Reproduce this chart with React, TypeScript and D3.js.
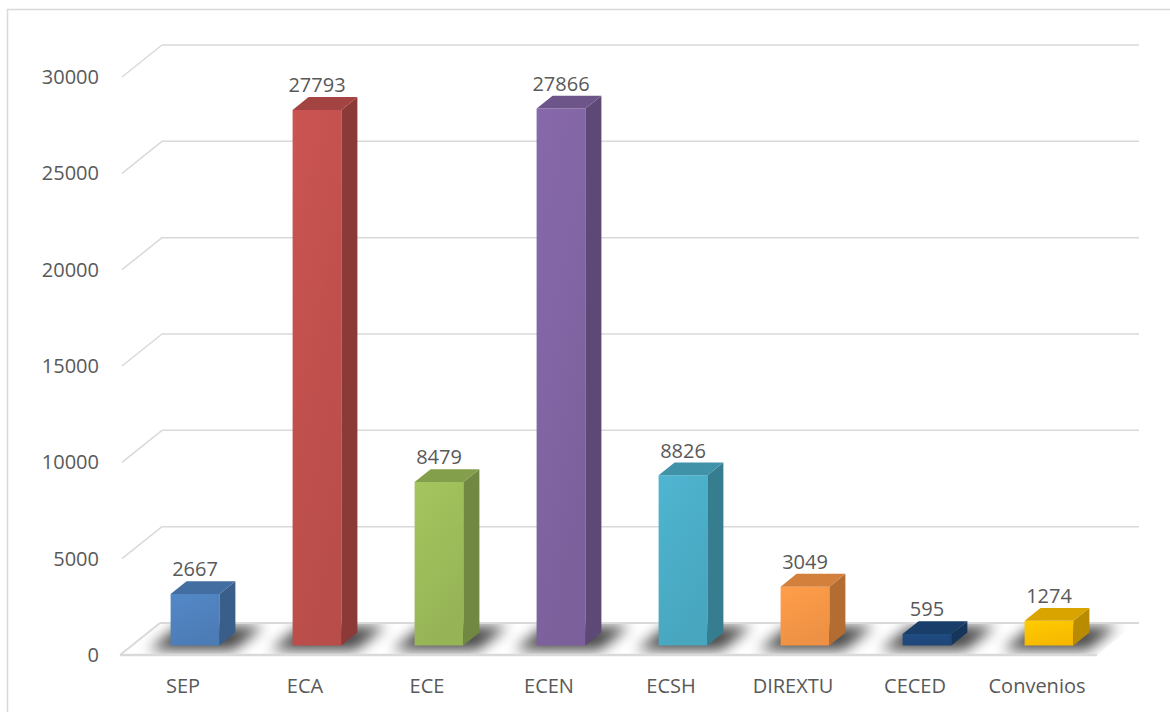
import * as d3 from 'd3';

const categories = ['SEP', 'ECA', 'ECE', 'ECEN', 'ECSH', 'DIREXTU', 'CECED', 'Convenios'];
const values = [2667, 27793, 8479, 27866, 8826, 3049, 595, 1274];
const barColors = ['#4F81BD', '#C0504D', '#9BBB59', '#8064A2', '#4BACC6', '#F79646', '#1F497D', '#FFC000'];
const yTicks = [0, 5000, 10000, 15000, 20000, 25000, 30000];

const W = 1170;
const H = 712;
// depth offset of the 3d box (back wall relative to front plane)
const DX = 40;
const DY = 32;
const FRONT = 0.3;
const BACK = 0.7;
const FONT = '"Open Sans", "DejaVu Sans", sans-serif';
const TEXT = '#595959';
const GRID = '#D9D9D9';

export default function App() {
  const x = d3.scaleBand<string>().domain(categories).range([122, 1098]);
  const y = d3.scaleLinear().domain([0, 30000]).range([655, 77]);
  const bw = x.bandwidth() * 0.4;

  const P = (xf: number, v: number, d: number): [number, number] => [xf + DX * d, y(v) - DY * d];
  const poly = (pts: [number, number][]) => pts.map((p) => p.join(',')).join(' ');

  const floor = poly([P(120, 0, 0), P(1097, 0, 0), P(1097, 0, 1), P(120, 0, 1)]);

  return (
    <svg width={W} height={H} style={{ position: 'absolute', left: 0, top: 0, background: '#fff' }}>
      <defs>
        <filter id="blur" x="-50%" y="-50%" width="200%" height="200%">
          <feGaussianBlur stdDeviation="7" />
        </filter>
        <clipPath id="floorClip">
          <polygon points={floor} />
        </clipPath>
        {barColors.map((c, i) => (
          <linearGradient key={i} id={`front${i}`} x1="0" y1="0" x2="0.4" y2="1">
            <stop offset="0" stopColor={d3.color(c)!.brighter(0.15).formatHex()} />
            <stop offset="1" stopColor={d3.color(c)!.darker(0.1).formatHex()} />
          </linearGradient>
        ))}
      </defs>

      {/* chart border */}
      <rect x={7.5} y={9.5} width={1200} height={740} fill="none" stroke={GRID} strokeWidth={1.5} />

      {/* gridlines on the back wall with diagonal stubs */}
      {yTicks.filter((t) => t > 0).map((t) => {
        const a = P(122, t, 0);
        const b = P(122, t, 1);
        return (
          <g key={t}>
            <line x1={a[0]} y1={a[1]} x2={b[0]} y2={b[1]} stroke={GRID} strokeWidth={1.5} />
            <line x1={b[0]} y1={b[1]} x2={1139} y2={b[1]} stroke={GRID} strokeWidth={1.5} />
          </g>
        );
      })}

      {/* floor */}
      <polygon points={floor} fill="#fff" />
      <g clipPath="url(#floorClip)">
        {categories.map((c) => {
          const xl = x(c)! + x.bandwidth() / 2 - bw / 2;
          const xr = xl + bw;
          const pts = poly([P(xl - 16, 0, 0.15), P(xr + 20, 0, 0.15), P(xr + 20, 0, 0.9), P(xl - 16, 0, 0.9)]);
          return <polygon key={c} points={pts} fill="#000" opacity={0.72} filter="url(#blur)" />;
        })}
      </g>
      <line x1={P(120, 0, 0)[0]} y1={P(120, 0, 0)[1]} x2={1097} y2={P(120, 0, 0)[1]} stroke={GRID} strokeWidth={2.5} />
      <line x1={P(120, 0, 0)[0]} y1={P(120, 0, 0)[1]} x2={P(120, 0, 1)[0]} y2={P(120, 0, 1)[1]} stroke={GRID} strokeWidth={2} />
      <line x1={P(120, 0, 1)[0]} y1={P(120, 0, 1)[1]} x2={1139} y2={P(120, 0, 1)[1]} stroke={GRID} strokeWidth={2} />

      {/* bars */}
      {categories.map((c, i) => {
        const v = values[i];
        const col = d3.color(barColors[i])!;
        const xl = x(c)! + x.bandwidth() / 2 - bw / 2;
        const xr = xl + bw;
        const front = poly([P(xl, 0, FRONT), P(xr, 0, FRONT), P(xr, v, FRONT), P(xl, v, FRONT)]);
        const side = poly([P(xr, 0, FRONT), P(xr, 0, BACK), P(xr, v, BACK), P(xr, v, FRONT)]);
        const top = poly([P(xl, v, FRONT), P(xr, v, FRONT), P(xr, v, BACK), P(xl, v, BACK)]);
        const labelX = P(x(c)! + x.bandwidth() / 2, v, FRONT)[0];
        const labelY = P(xl, v, BACK)[1] - 5;
        return (
          <g key={c}>
            <polygon points={front} fill={`url(#front${i})`} />
            <polygon points={side} fill={col.darker(0.9).formatHex()} />
            <polygon points={top} fill={col.darker(0.45).formatHex()} />
            <text x={labelX} y={labelY} textAnchor="middle" fontFamily={FONT} fontSize={20} fill={TEXT}>
              {v}
            </text>
          </g>
        );
      })}

      {/* y axis labels */}
      {yTicks.map((t) => (
        <text key={t} x={99} y={y(t)} dy="0.35em" textAnchor="end" fontFamily={FONT} fontSize={20} fill={TEXT}>
          {t}
        </text>
      ))}

      {/* category labels */}
      {categories.map((c) => (
        <text key={c} x={x(c)! + x.bandwidth() / 2} y={693} textAnchor="middle" fontFamily={FONT} fontSize={20} fill={TEXT}>
          {c}
        </text>
      ))}
    </svg>
  );
}
